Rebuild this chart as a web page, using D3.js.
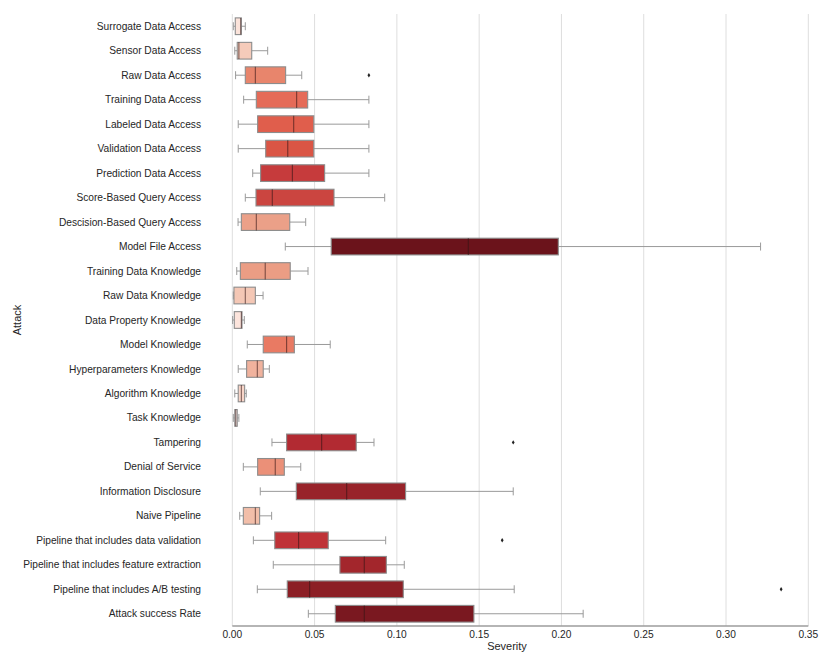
<!DOCTYPE html>
<html>
<head>
<meta charset="utf-8">
<script src="https://cdn.jsdelivr.net/npm/d3@7"></script>
<style>
  html, body { margin: 0; padding: 0; background: #fff; }
  svg { display: block; font-family: "Liberation Sans", Arial, sans-serif; }
</style>
</head>
<body>
<div id="chart"></div>
<script>
/* Box plot of attack severity, seaborn-like style */

var attacks = [
  'Surrogate Data Access', 'Sensor Data Access', 'Raw Data Access',
  'Training Data Access', 'Labeled Data Access', 'Validation Data Access',
  'Prediction Data Access', 'Score-Based Query Access', 'Descision-Based Query Access',
  'Model File Access', 'Training Data Knowledge', 'Raw Data Knowledge',
  'Data Property Knowledge', 'Model Knowledge', 'Hyperparameters Knowledge',
  'Algorithm Knowledge', 'Task Knowledge', 'Tampering', 'Denial of Service',
  'Information Disclosure', 'Naive Pipeline', 'Pipeline that includes data validation',
  'Pipeline that includes feature extraction', 'Pipeline that includes A/B testing',
  'Attack success Rate'
];

// five-number summaries
var whiskerLow = [0.0006, 0.0015, 0.0020, 0.0069, 0.0036, 0.0036, 0.0124, 0.0079, 0.0035,
  0.0322, 0.0027, 0.0006, 0.0002, 0.0091, 0.0036, 0.0015, 0.0006, 0.0241, 0.0067,
  0.0170, 0.0045, 0.0128, 0.0249, 0.0152, 0.0462];
var q1 = [0.0018, 0.0030, 0.0079, 0.0146, 0.0154, 0.0203, 0.0172, 0.0144, 0.0055,
  0.0601, 0.0049, 0.0010, 0.0012, 0.0188, 0.0087, 0.0036, 0.0015, 0.0330, 0.0154,
  0.0389, 0.0067, 0.0258, 0.0654, 0.0334, 0.0626];
var median = [0.0051, 0.0040, 0.0140, 0.0391, 0.0373, 0.0337, 0.0365, 0.0243, 0.0146,
  0.1434, 0.0200, 0.0079, 0.0055, 0.0330, 0.0152, 0.0055, 0.0021, 0.0543, 0.0261,
  0.0695, 0.0140, 0.0403, 0.0802, 0.0470, 0.0802];
var q3 = [0.0055, 0.0118, 0.0324, 0.0458, 0.0495, 0.0495, 0.0561, 0.0618, 0.0349,
  0.1981, 0.0352, 0.0140, 0.0059, 0.0377, 0.0188, 0.0075, 0.0030, 0.0753, 0.0316,
  0.1053, 0.0166, 0.0583, 0.0936, 0.1039, 0.1468];
var whiskerHigh = [0.0079, 0.0215, 0.0422, 0.0830, 0.0830, 0.0830, 0.0830, 0.0926, 0.0446,
  0.3210, 0.0460, 0.0187, 0.0073, 0.0595, 0.0225, 0.0085, 0.0040, 0.0861, 0.0416,
  0.1707, 0.0239, 0.0932, 0.1045, 0.1713, 0.2132];

// outliers: [attack index, value]
var outliers = [[2, 0.0830], [17, 0.1707], [21, 0.1640], [23, 0.3335]];

var boxColors = ['#fbe3da', '#f5cbba', '#e8856c', '#e56b58', '#e05e4c', '#da5545',
  '#c63b3c', '#cb4540', '#eba088', '#6b131b', '#eb9d84', '#f4c7b5', '#fce4dc',
  '#e97a63', '#f0b29d', '#f8d5c8', '#fdeee8', '#b22a32', '#eb9078', '#98232a',
  '#f2bea9', '#bf3237', '#a3262c', '#8c1f25', '#7a1820'];

var xTicks = [0, 0.05, 0.10, 0.15, 0.20, 0.25, 0.30, 0.35];

var rows = attacks.map(function (a, i) {
  return { name: a, lo: whiskerLow[i], q1: q1[i], med: median[i], q3: q3[i], hi: whiskerHigh[i], color: boxColors[i] };
});

var width = 830, height = 664;
var plot = { left: 232.3, right: 808.3, top: 14, bottom: 626 };

var svg = d3.select('#chart').append('svg')
  .attr('width', width)
  .attr('height', height);

var x = d3.scaleLinear().domain([0, 0.35]).range([plot.left, plot.right]);
var y = d3.scaleBand().domain(attacks).range([plot.top, plot.bottom]).padding(0);

var boxH = 16.7;
var capH = 8;

/* Grid */
svg.append('g')
  .selectAll('line')
  .data(xTicks)
  .join('line')
  .attr('x1', function (d) { return x(d); })
  .attr('x2', function (d) { return x(d); })
  .attr('y1', plot.top)
  .attr('y2', plot.bottom)
  .attr('stroke', '#dedede')
  .attr('stroke-width', 1);

/* Boxes */
var g = svg.append('g');
var rowG = g.selectAll('.row')
  .data(rows)
  .join('g')
  .attr('class', 'row')
  .attr('transform', function (d) { return 'translate(0,' + (y(d.name) + y.bandwidth() / 2) + ')'; });

var whiskerColor = '#9a9a9a';

rowG.append('line')
  .attr('x1', function (d) { return x(d.lo); })
  .attr('x2', function (d) { return x(d.q1); })
  .attr('stroke', whiskerColor);
rowG.append('line')
  .attr('x1', function (d) { return x(d.q3); })
  .attr('x2', function (d) { return x(d.hi); })
  .attr('stroke', whiskerColor);
rowG.append('line')
  .attr('x1', function (d) { return x(d.lo); })
  .attr('x2', function (d) { return x(d.lo); })
  .attr('y1', -capH / 2).attr('y2', capH / 2)
  .attr('stroke', whiskerColor);
rowG.append('line')
  .attr('x1', function (d) { return x(d.hi); })
  .attr('x2', function (d) { return x(d.hi); })
  .attr('y1', -capH / 2).attr('y2', capH / 2)
  .attr('stroke', whiskerColor);

rowG.append('rect')
  .attr('x', function (d) { return x(d.q1); })
  .attr('y', -boxH / 2)
  .attr('width', function (d) { return Math.max(0.5, x(d.q3) - x(d.q1)); })
  .attr('height', boxH)
  .attr('fill', function (d) { return d.color; })
  .attr('stroke', '#8c8c8c')
  .attr('stroke-width', 1.1);

rowG.append('line')
  .attr('x1', function (d) { return x(d.med); })
  .attr('x2', function (d) { return x(d.med); })
  .attr('y1', -boxH / 2).attr('y2', boxH / 2)
  .attr('stroke', 'rgba(50,20,20,0.6)')
  .attr('stroke-width', 1.1);

/* Outliers */
g.selectAll('.flier')
  .data(outliers)
  .join('path')
  .attr('class', 'flier')
  .attr('transform', function (d) {
    return 'translate(' + x(d[1]) + ',' + (y(attacks[d[0]]) + y.bandwidth() / 2) + ')';
  })
  .attr('d', 'M0,-2.2L1.4,0L0,2.2L-1.4,0Z')
  .attr('fill', '#222');

/* Bottom axis line */
svg.append('line')
  .attr('x1', plot.left).attr('x2', plot.right)
  .attr('y1', plot.bottom).attr('y2', plot.bottom)
  .attr('stroke', '#9c9c9c')
  .attr('stroke-width', 1.4);

/* Tick labels */
svg.append('g')
  .selectAll('text')
  .data(xTicks)
  .join('text')
  .attr('x', function (d) { return x(d); })
  .attr('y', 638)
  .attr('text-anchor', 'middle')
  .attr('font-size', '10.2px')
  .attr('fill', '#262626')
  .text(function (d) { return d3.format('.2f')(d); });

svg.append('g')
  .selectAll('text')
  .data(attacks)
  .join('text')
  .attr('x', 201)
  .attr('y', function (d) { return y(d) + y.bandwidth() / 2; })
  .attr('dy', '0.35em')
  .attr('text-anchor', 'end')
  .attr('font-size', '10.2px')
  .attr('fill', '#262626')
  .text(function (d) { return d; });

/* Axis titles */
svg.append('text')
  .attr('x', 507)
  .attr('y', 650)
  .attr('text-anchor', 'middle')
  .attr('font-size', '11px')
  .attr('fill', '#262626')
  .text('Severity');

svg.append('text')
  .attr('transform', 'translate(21,320) rotate(-90)')
  .attr('text-anchor', 'middle')
  .attr('font-size', '11px')
  .attr('fill', '#262626')
  .text('Attack');
</script>
</body>
</html>
